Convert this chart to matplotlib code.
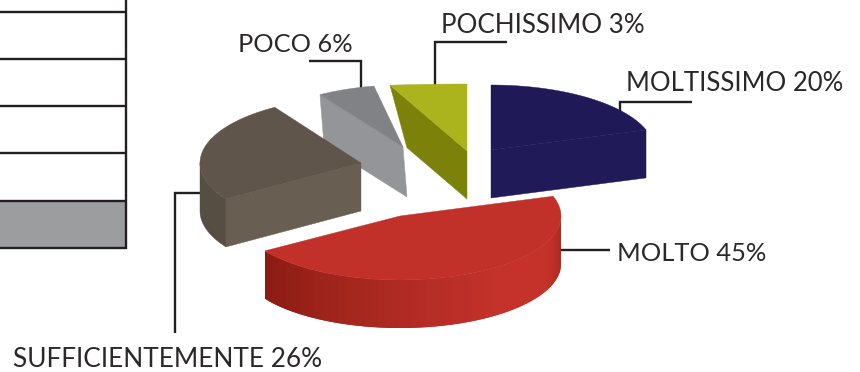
import numpy as np
import matplotlib
matplotlib.use("Agg")
import matplotlib.pyplot as plt
from matplotlib.patches import Polygon, Rectangle

# ---- data -----------------------------------------------------------------
categories = ["MOLTISSIMO", "MOLTO", "SUFFICIENTEMENTE", "POCO", "POCHISSIMO"]
percentages = [20, 45, 26, 6, 3]
table_rows = 5

# ---- per-slice look (centre, radii, depth in canvas px) --------------------
centres = [(491, 150), (400, 216), (361, 163), (403, 147), (467, 151)]
radii = [(163, 65), (161, 64), (161, 66), (155, 62), (411, 67)]
depth = 48
lean = [0, 0, 0, 4, 0]
top_cols = ["#1f1a57", "#c1312a", "#5f554a", "#808285", "#abb41c"]
cut_cols = ["#201b58", None, "#685e52", "#939598", "#7b8109"]
ink = "#231f20"
text_col = "#2b2829"
label_font = ["Lato", "DejaVu Sans"]
font_pts = [18.5, 18.35, 18.9, 18.3, 18.7]

fig = plt.figure(figsize=(8.6, 3.72), dpi=100)
ax = fig.add_axes([0, 0, 1, 1])
ax.set_xlim(0, 860)
ax.set_ylim(372, 0)
ax.axis("off")

# ---- slice angles come from the values -------------------------------------
edges = np.concatenate([[0], np.cumsum(percentages)]) * 3.6
perspective_nudge = 3.0          # the red/brown boundary reads slightly later
edges[2] += perspective_nudge


def pt(i, deg):
    cx, cy = centres[i]
    rx, ry = radii[i]
    a = np.radians(deg)
    return np.array([cx + rx * np.sin(a), cy - ry * np.cos(a)])


def arc(i, d0, d1, n=80):
    return np.array([pt(i, d) for d in np.linspace(d0, d1, n)])


def poly(xy, col, z, lw=0.3):
    ax.add_patch(Polygon(xy, closed=True, facecolor=col, edgecolor=col,
                         linewidth=lw, zorder=z))


def top(i, z):
    apex = np.array(centres[i], float)
    poly(np.vstack([apex, arc(i, edges[i], edges[i + 1])]), top_cols[i], z)


def down(i):
    return np.array([lean[i], depth + (2 if i >= 3 else 0)], float)


# ---- left table fragment ---------------------------------------------------
row_h = 47.1
table_bottom = 247.6
table_right = 126
ax.add_patch(Rectangle((0, table_bottom - row_h), table_right, row_h,
                       facecolor="#9c9d9f", edgecolor="none", zorder=1))
for r in range(table_rows + 1):
    y = table_bottom - r * row_h
    ax.plot([0, table_right + 1], [y, y], color=ink, lw=1.7, zorder=2,
            solid_capstyle="butt")
ax.plot([table_right, table_right], [0, table_bottom + 1], color=ink, lw=1.7,
        zorder=2, solid_capstyle="butt")

# ---- leader lines ----------------------------------------------------------
leaders = [
    ([620, 620, 692], [115, 102, 102]),
    ([555, 610], [250, 250]),
    ([205, 175, 175], [193, 193, 333]),
    ([309, 361, 361], [61, 61, 90]),
    ([507, 435, 435], [42, 42, 90]),
]
for xs, ys in leaders:
    ax.plot(xs, ys, color=ink, lw=1.7, zorder=3, solid_joinstyle="miter",
            solid_capstyle="butt")

# ---- navy slice ------------------------------------------------------------
i = 0
apex = np.array(centres[i], float)
end = pt(i, edges[i + 1])
poly([apex, end, end + down(i), apex + down(i)], cut_cols[i], 4)
top(i, 5)

# ---- olive slice -----------------------------------------------------------
i = 4
apex = np.array(centres[i], float)
start = pt(i, edges[i])
c = apex + down(i) - [0, 2]
far = start + down(i) - [0, 2]
d = c + 0.78 * (far - c)
poly([start, apex, c, d], cut_cols[i], 4)
top(i, 5)

# ---- grey slice ------------------------------------------------------------
i = 3
apex = np.array(centres[i], float)
start = pt(i, edges[i])
poly([start, apex, apex + down(i), start + down(i)], cut_cols[i], 6)
top(i, 7)

# ---- brown slice -----------------------------------------------------------
i = 2
apex = np.array(centres[i], float)
start = pt(i, edges[i])
outer = arc(i, edges[i], 270, 40)
poly(np.vstack([outer, (outer + down(i))[::-1]]), "#574e43", 8)
poly([apex, start, start + down(i), apex + down(i)], cut_cols[i], 9)
top(i, 10)

# ---- red slice with its shaded rim ------------------------------------------
i = 1
stops_deg = [237, 200, 165, 140, 115, 100, 90]
stops_col = ["#8a1b13", "#a3261d", "#b82e27", "#c5322b", "#c4322a", "#b02c24", "#9f2a20"]
rgb = np.array([matplotlib.colors.to_rgb(c) for c in stops_col])
strip_edges = np.linspace(237, 90, 61)
for k0, (a0, a1) in enumerate(zip(strip_edges[:-1], strip_edges[1:])):
    mid = 0.5 * (a0 + a1)
    col = [np.interp(-mid, -np.array(stops_deg), rgb[:, k]) for k in range(3)]
    # each strip runs a little under the next one so no seam shows
    seg = arc(i, a0, max(a1 - 2.5, 90), 6)
    poly(np.vstack([seg, (seg + down(i))[::-1]]), col, 11 + k0 * 0.001, lw=0)
top(i, 12)

# ---- labels ----------------------------------------------------------------
anchors = [(626, 91), (617, 261), (13, 367), (238, 52), (441, 33)]
for name, pct, (x, y), fs in zip(categories, percentages, anchors, font_pts):
    ax.text(x, y, f"{name} {pct}%", fontsize=fs, color=text_col,
            family=label_font, ha="left", va="baseline", zorder=20)

fig.savefig("out.png", dpi=100, facecolor="white")
